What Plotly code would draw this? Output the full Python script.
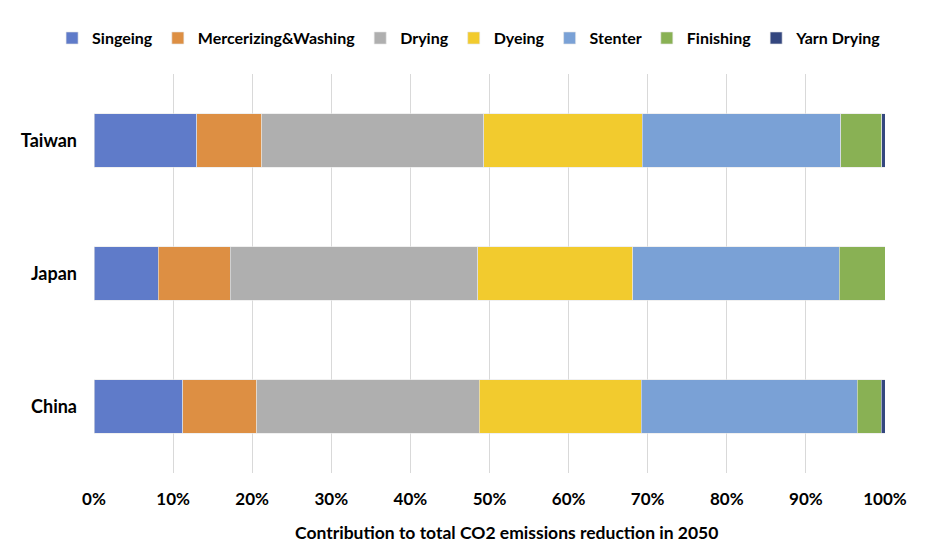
import plotly.graph_objects as go

countries = ["China", "Japan", "Taiwan"]
series_names = ["Singeing", "Mercerizing&Washing", "Drying", "Dyeing", "Stenter", "Finishing", "Yarn Drying"]
singeing = [11.2, 8.1, 13.0]
mercerizing = [9.4, 9.1, 8.2]
drying = [28.1, 31.3, 28.1]
dyeing = [20.5, 19.6, 20.0]
stenter = [27.3, 26.1, 25.1]
finishing = [3.0, 5.8, 5.2]
yarn_drying = [0.5, 0.0, 0.4]
colors = ["#5f7bc9", "#dd8f43", "#afafaf", "#f2cb2e", "#7aa1d6", "#89b154", "#34477f"]
x_title = "Contribution to total CO2 emissions reduction in 2050"

values = [singeing, mercerizing, drying, dyeing, stenter, finishing, yarn_drying]
font_fam = "Lato, Open Sans, sans-serif"

fig = go.Figure()
for name, vals, col in zip(series_names, values, colors):
    fig.add_trace(go.Bar(
        y=countries, x=vals, name=name, orientation="h",
        marker=dict(color=col, line=dict(color="#e6e6e6", width=0.6)),
        width=0.4,
    ))

fig.update_layout(
    barmode="stack",
    width=940, height=555,
    margin=dict(l=86, r=63, t=66, b=90),
    plot_bgcolor="white", paper_bgcolor="white",
    font=dict(family=font_fam, size=17, color="#000000"),
    legend=dict(orientation="h", xref="paper", yref="paper",
                x=-0.053, xanchor="left", y=1.09, yanchor="middle",
                font=dict(family=font_fam, size=16, weight="bold"),
                itemwidth=30, traceorder="normal"),
    xaxis=dict(range=[0, 100], dtick=10, ticksuffix="%",
               showgrid=True, gridcolor="#d9d9d9", gridwidth=1,
               zeroline=False, showline=False,
               tickfont=dict(family=font_fam, size=17, weight="bold"),
               ticks="", ticklabelstandoff=14),
    yaxis=dict(showgrid=False, zeroline=False, showline=False,
               tickfont=dict(family=font_fam, size=18, weight="bold"),
               ticks="", ticklabelstandoff=16),
    annotations=[dict(text=x_title, xref="paper", yref="paper",
                      x=0.521, xanchor="center", y=-0.148, yanchor="middle",
                      showarrow=False,
                      font=dict(family=font_fam, size=17.5, weight="bold"))],
)

fig.write_html("out.html")
